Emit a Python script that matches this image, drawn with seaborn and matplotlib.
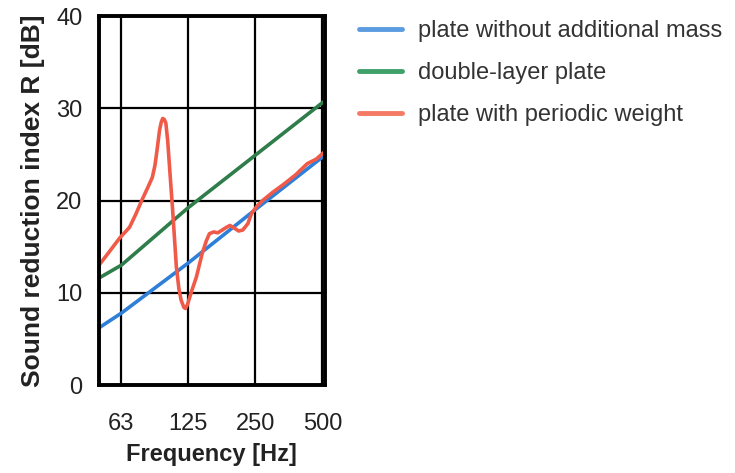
import numpy as np
import pandas as pd
import matplotlib
matplotlib.use("Agg")
import matplotlib.pyplot as plt
import matplotlib.ticker as mticker
import seaborn as sns

# values (frequency in Hz, R in dB)
plain_f = [50, 63, 125, 250, 512]
plain_r = [6.2, 7.8, 13.2, 19.0, 24.9]

double_f = [50, 63, 125, 250, 512]
double_r = [11.6, 13.0, 19.2, 24.9, 30.8]

weight_f = [50, 55, 61.7, 68.5, 73, 78, 83, 86.6, 89, 91, 93.3, 95, 96.4, 98, 99.6, 101.5,
            103.5, 106.8, 111, 114, 116.6, 120, 122, 124.4, 130, 136.4, 145, 151, 156,
            163, 170, 178, 186, 193, 202, 211, 220, 232, 241, 255, 270, 300, 333, 380,
            428, 470, 512]
weight_r = [13.0, 14.3, 15.9, 17.1, 18.5, 20.1, 21.5, 22.5, 23.8, 25.5, 27.6, 28.5, 28.9,
            28.8, 28.4, 26.5, 23.6, 19.0, 12.8, 10.4, 9.2, 8.4, 8.3, 8.7, 10.2, 11.7, 14.3,
            15.6, 16.4, 16.6, 16.5, 16.8, 17.1, 17.3, 17.0, 16.7, 16.8, 17.5, 18.6, 19.4,
            20.0, 20.9, 21.7, 22.8, 24.0, 24.5, 25.3]

names = ["plate without additional mass", "double-layer plate", "plate with periodic weight"]
colors = ["#2f7fd8", "#2e7d4a", "#f05a48"]

df = pd.concat([
    pd.DataFrame({"f": plain_f, "R": plain_r, "series": names[0]}),
    pd.DataFrame({"f": double_f, "R": double_r, "series": names[1]}),
    pd.DataFrame({"f": weight_f, "R": weight_r, "series": names[2]}),
])

sns.set_style("white")
plt.rcParams['font.family'] = ['Liberation Sans', 'DejaVu Sans']

fig = plt.figure(figsize=(7.35, 4.73), dpi=100)
ax = fig.add_axes([0.1347, 0.186, 0.307, 0.780])

sns.lineplot(data=df, x="f", y="R", hue="series", palette=colors, estimator=None,
             sort=False, linewidth=2.6, ax=ax, legend=False)
for ln in ax.get_lines():
    ln.set_solid_joinstyle("round")
    ln.set_solid_capstyle("round")

ax.set_xscale("log")
ax.set_xlim(50, 512)
ax.set_ylim(0, 40)
ax.xaxis.set_major_locator(mticker.FixedLocator([63, 125, 250, 500]))
ax.xaxis.set_major_formatter(mticker.FixedFormatter(["63", "125", "250", "500"]))
ax.xaxis.set_minor_locator(mticker.NullLocator())
ax.set_yticks([0, 10, 20, 30, 40])
ax.grid(True, color="black", linewidth=1.6)
ax.set_axisbelow(True)
for s in ax.spines.values():
    s.set_color("black")
    s.set_linewidth(2.8)
ax.tick_params(axis="both", length=0, labelsize=17, colors="#222222")
ax.tick_params(axis="x", pad=20)
ax.tick_params(axis="y", pad=12)

ax.set_xlabel("Frequency [Hz]", fontsize=17, fontweight="bold", color="#222222", labelpad=6)
ax.set_ylabel("Sound reduction index R [dB]", fontsize=19, fontweight="bold", color="#222222", labelpad=8)

leg_colors = ["#5b9be0", "#3fa06a", "#f47a66"]
handles = [plt.Line2D([], [], color=c, linewidth=3.5) for c in leg_colors]
fig.legend(handles, names, loc="upper left", bbox_to_anchor=(0.46, 1.003),
           frameon=False, fontsize=17, handlelength=1.8, handletextpad=0.7,
           labelspacing=0.85, labelcolor="#333333")

fig.savefig("out.png", dpi=100)
